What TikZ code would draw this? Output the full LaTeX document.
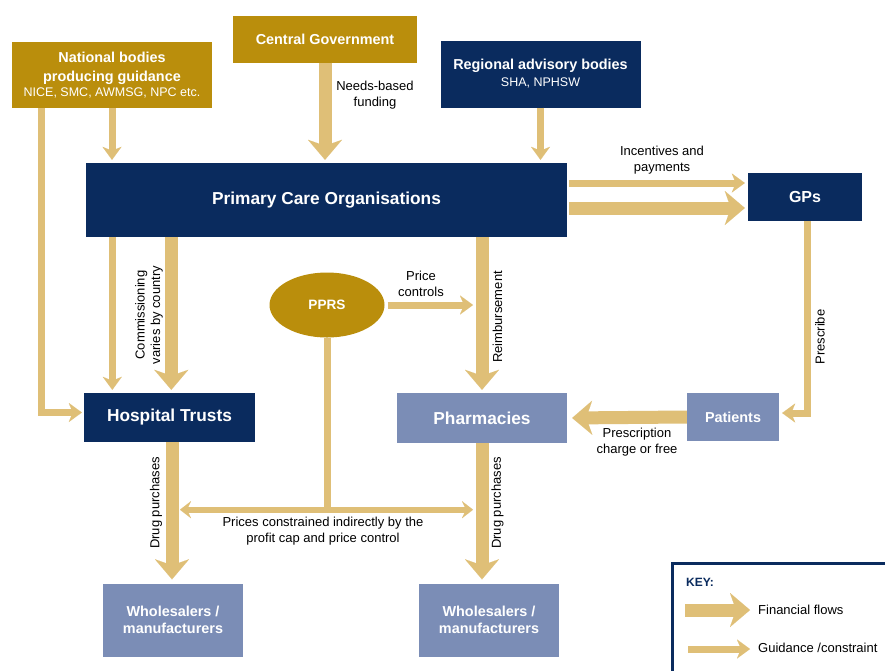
\documentclass[tikz,border=0pt]{standalone}
\usepackage{fontspec}
\setmainfont{Liberation Sans}
\usetikzlibrary{arrows.meta,shapes.geometric,calc}
\definecolor{gold}{RGB}{186,142,12}
\definecolor{navy}{RGB}{10,43,94}
\definecolor{lblue}{RGB}{123,141,182}
\definecolor{arrowc}{RGB}{223,191,119}
\tikzset{
  box/.style={rectangle, inner sep=0pt, align=center, text=white, font=\bfseries},
  bigtxt/.style={font=\bfseries\fontsize{17.3}{20}\selectfont},
  midtxt/.style={font=\bfseries\fontsize{14.4}{17}\selectfont},
  lbl/.style={inner sep=0pt, align=center, text=black, font=\fontsize{13}{15.5}\selectfont},
  fin/.style={draw=arrowc, line width=13pt, -{Stealth[width=34pt,length=20pt,inset=6pt,line width=0.01pt]}},
  gui/.style={draw=arrowc, line width=7pt, -{Stealth[width=19pt,length=13pt,inset=4pt,line width=0.01pt]}},
  guiline/.style={draw=arrowc, line width=7pt},
  dbl/.style={draw=arrowc, line width=6pt, {Stealth[width=17pt,length=11pt,inset=4pt,line width=0.01pt]}-{Stealth[width=17pt,length=11pt,inset=4pt,line width=0.01pt]}},
}
\begin{document}
\begin{tikzpicture}[x=1pt,y=-1pt]
\useasboundingbox (0,0) rectangle (885,670);
\fill[white] (0,0) rectangle (885,670);

% boxes
\node[box, fill=gold, minimum width=200pt, minimum height=66pt, font=\bfseries\fontsize{14.4}{18.5}\selectfont] (nat) at (112,75)
  {National bodies\\producing guidance\\[-3.5pt]{\fontsize{12.5}{15}\selectfont\mdseries NICE, SMC, AWMSG, NPC etc.}};
\node[box, fill=gold, minimum width=184pt, minimum height=47pt, midtxt] (cg) at (325,39) {Central Government};
\node[box, fill=navy, minimum width=200pt, minimum height=67pt, font=\bfseries\fontsize{14.4}{17}\selectfont] (reg) at (540.5,74)
  {Regional advisory bodies\\{\fontsize{12.5}{15}\selectfont\mdseries SHA, NPHSW}};
\node[box, fill=navy, minimum width=481pt, minimum height=74pt, bigtxt] (pco) at (326.5,200) {Primary Care Organisations};
\node[box, fill=navy, minimum width=114pt, minimum height=48pt, font=\bfseries\fontsize{16}{19}\selectfont] (gps) at (805,197) {GPs};
\node[ellipse, fill=gold, inner sep=0pt, minimum width=115pt, minimum height=65pt, text=white, font=\bfseries\fontsize{13.6}{16}\selectfont] (pprs) at (327,305) {PPRS};
\node[box, fill=navy, minimum width=171pt, minimum height=49pt, bigtxt] (hosp) at (169.5,417.5) {Hospital Trusts};
\node[box, fill=lblue, minimum width=170pt, minimum height=50pt, bigtxt] (pharm) at (482,418) {Pharmacies};
\node[box, fill=lblue, minimum width=92pt, minimum height=48pt, midtxt] (pat) at (733,417) {Patients};
\node[box, fill=lblue, minimum width=140pt, minimum height=73pt, midtxt] (wl) at (173,620) {Wholesalers /\\manufacturers};
\node[box, fill=lblue, minimum width=140pt, minimum height=73pt, midtxt] (wr) at (489,620) {Wholesalers /\\manufacturers};

% arrows into PCO
\draw[gui, shorten >=3pt] (nat.south) -- (nat.south |- pco.north);
\draw[fin, shorten >=3pt] (cg.south) -- (cg.south |- pco.north);
\draw[gui, shorten >=3pt] (reg.south) -- (reg.south |- pco.north);
\node[lbl] (l1) at (375,95) {Needs-based\\funding};

% national to hospital
\coordinate (n1) at ([xshift=30pt]nat.south west);
\draw[gui, shorten >=2pt] (n1) |- ([yshift=5pt]hosp.west);

% PCO to GPs
\coordinate (p1) at ([yshift=17pt]pco.east);
\coordinate (p2) at ([yshift=-8pt]pco.east);
\draw[gui, shorten >=3pt, shorten <=2pt] (p1) -- (p1 -| gps.west);
\draw[fin, shorten >=3pt, shorten <=2pt] (p2) -- (p2 -| gps.west);
\node[lbl] (l2) at (662,160) {Incentives and\\payments};

% PCO to hospital
\coordinate (p3) at ([xshift=26.5pt]pco.south west);
\coordinate (p4) at ([xshift=85.5pt]pco.south west);
\draw[gui, shorten >=3pt] (p3) -- (p3 |- hosp.north);
\draw[fin, shorten >=3pt] (p4) -- (p4 |- hosp.north);
\node[lbl, rotate=90] (l3) at (149,315) {Commissioning\\varies by country};

% PCO to pharmacies
\draw[fin, shorten >=3pt] (pharm.north |- pco.south) -- (pharm.north);
\node[lbl, rotate=90] (l4) at (497.5,317) {Reimbursement};

% PPRS
\draw[gui, shorten >=9pt, shorten <=3pt] (pprs.east) -- (pprs.east -| pharm.north);
\node[lbl] (l5) at (421,284) {Price\\controls};
\draw[guiline] (pprs.south) -- ++(0,172) coordinate (pj);
\coordinate (pl) at (pj -| wl.north);
\coordinate (pr) at (pj -| pharm.south);
\draw[dbl] ([xshift=7pt]pl) -- ([xshift=-9pt]pr);
\node[lbl] (l6) at (323,531) {Prices constrained indirectly by the\\profit cap and price control};

% GPs to patients
\coordinate (g1) at ([xshift=2pt]gps.south);
\draw[gui, shorten >=3pt] (g1) |- ([yshift=4pt]pat.east);
\node[lbl, rotate=90] (l7) at (820,337) {Prescribe};

% patients to pharmacies
\draw[fin, shorten >=5pt] (pat.west) -- (pharm.east);
\node[lbl] (l8) at (637,442) {Prescription\\charge or free};

% drug purchases
\coordinate (h1) at ([xshift=2.5pt]hosp.south);
\draw[fin, shorten >=4pt] (h1) -- (h1 |- wl.north);
\node[lbl, rotate=90] (l9) at (156,503) {Drug purchases};
\draw[fin, shorten >=4pt] (pharm.south) -- (pharm.south |- wr.north);
\node[lbl, rotate=90] (l10) at (497.5,503) {Drug purchases};

% key
\draw[navy, line width=3pt] (672,563) rectangle (905,700);
\node[inner sep=0pt, anchor=west, text=navy, font=\bfseries\fontsize{12}{14}\selectfont] (key) at (686,582) {KEY:};
\coordinate (k1) at (685,610);
\coordinate (k2) at (750,610);
\coordinate (k3) at (688,649);
\coordinate (k4) at (750,649);
\draw[fin] (k1) -- (k2);
\draw[gui] (k3) -- (k4);
\node[lbl, anchor=west] (kt1) at (758,610) {Financial flows};
\node[lbl, anchor=west] (kt2) at (758,648) {Guidance /constraint};
\end{tikzpicture}
\end{document}
